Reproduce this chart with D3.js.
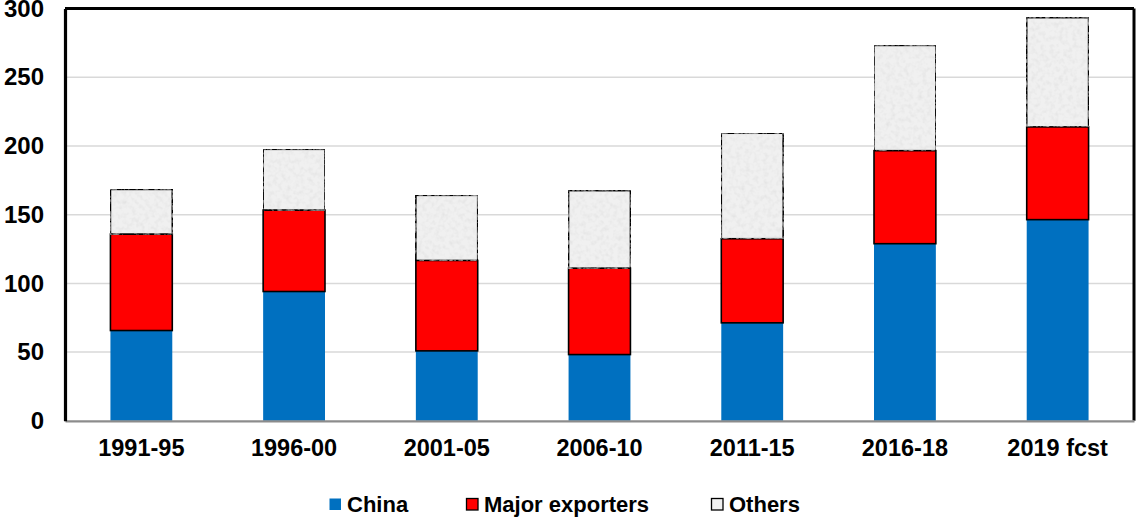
<!DOCTYPE html>
<html>
<head>
<meta charset="utf-8">
<script src="https://cdn.jsdelivr.net/npm/d3@7"></script>
<style>
  html, body { margin: 0; padding: 0; background: #fff; }
  svg { display: block; font-family: "Liberation Sans", Arial, sans-serif; font-weight: bold; }
</style>
</head>
<body>
<div id="chart"></div>
<script>
const categories = ["1991-95", "1996-00", "2001-05", "2006-10", "2011-15", "2016-18", "2019 fcst"];
const china = [65.7, 94.1, 50.9, 48.2, 71.3, 128.9, 146.4];
const majorExporters = [70.2, 59.3, 65.8, 62.9, 61.2, 67.7, 67.5];
const others = [32.5, 44.2, 47.4, 56.4, 76.8, 76.6, 79.5];
const seriesNames = ["China", "Major exporters", "Others"];
const yTicks = [0, 50, 100, 150, 200, 250, 300];

const W = 1136, H = 518;
const margin = { left: 65, right: 2, top: 8.6, bottom: 97.2 };
const svg = d3.select("#chart").append("svg").attr("width", W).attr("height", H);

const defs = svg.append("defs");
const filt = defs.append("filter").attr("id", "speckle").attr("x", 0).attr("y", 0).attr("width", 1).attr("height", 1);
filt.append("feTurbulence").attr("type", "fractalNoise").attr("baseFrequency", 0.22).attr("numOctaves", 2).attr("seed", 3).attr("result", "noise");
filt.append("feColorMatrix").attr("in", "noise").attr("type", "matrix")
  .attr("values", "0 0 0 0 0.72  0 0 0 0 0.72  0 0 0 0 0.72  0 0 0 1.4 -0.62").attr("result", "dots");
filt.append("feComposite").attr("in", "dots").attr("in2", "SourceGraphic").attr("operator", "in").attr("result", "dotsClip");
filt.append("feMerge").call(m => { m.append("feMergeNode").attr("in", "SourceGraphic"); m.append("feMergeNode").attr("in", "dotsClip"); });

const x = d3.scaleBand().domain(categories).range([margin.left, W - margin.right]).paddingInner(0.595).paddingOuter(0.2975);
const y = d3.scaleLinear().domain([0, 300]).range([H - margin.bottom, margin.top]);

// gridlines
svg.append("g").selectAll("line").data(yTicks.filter(d => d > 0 && d < 300)).join("line")
  .attr("x1", margin.left).attr("x2", W - margin.right)
  .attr("y1", d => y(d)).attr("y2", d => y(d))
  .attr("stroke", "#d9d9d9").attr("stroke-width", 1.5);

const table = categories.map((c, i) => ({ cat: c, China: china[i], "Major exporters": majorExporters[i], Others: others[i] }));
const stacked = d3.stack().keys(seriesNames)(table);
const fills = { "China": "#0070C0", "Major exporters": "#FF0000", "Others": "#f0f0f0" };

stacked.forEach(s => {
  const g = svg.append("g");
  g.selectAll("rect").data(s).join("rect")
    .attr("x", d => x(d.data.cat))
    .attr("width", x.bandwidth())
    .attr("y", d => y(d[1]))
    .attr("height", d => y(d[0]) - y(d[1]))
    .attr("fill", fills[s.key])
    .attr("filter", s.key === "Others" ? "url(#speckle)" : null)
    .attr("stroke", s.key === "China" ? "none" : "#000")
    .attr("stroke-width", s.key === "China" ? 0 : 1.6);
});

// frame: top and right
svg.append("line").attr("x1", margin.left).attr("x2", W - margin.right).attr("y1", margin.top).attr("y2", margin.top)
  .attr("stroke", "#000").attr("stroke-width", 3);
svg.append("line").attr("x1", W - margin.right).attr("x2", W - margin.right).attr("y1", margin.top).attr("y2", y(0))
  .attr("stroke", "#000").attr("stroke-width", 3);

// x axis
const xAxis = svg.append("g").attr("transform", `translate(0,${y(0)})`)
  .call(d3.axisBottom(x).tickSize(0).tickPadding(19));
xAxis.select(".domain").attr("stroke", "#8c8c8c").attr("stroke-width", 2.2);
xAxis.selectAll("text").attr("font-size", 23.5).attr("font-weight", "bold").attr("fill", "#000")
  .attr("font-family", "Liberation Sans, Arial, sans-serif");

// y axis
const yAxis = svg.append("g").attr("transform", `translate(${margin.left},0)`)
  .call(d3.axisLeft(y).tickValues(yTicks).tickSize(0).tickPadding(21));
yAxis.select(".domain").attr("stroke", "#000").attr("stroke-width", 3.2);
yAxis.selectAll("text").attr("font-size", 24).attr("font-weight", "bold").attr("fill", "#000")
  .attr("font-family", "Liberation Sans, Arial, sans-serif");

// legend
const legendX = [329, 466, 711];
const leg = svg.append("g");
seriesNames.forEach((name, i) => {
  leg.append("rect").attr("x", legendX[i] + 0.5).attr("y", 498.5).attr("width", 11.5).attr("height", 11.5)
    .attr("fill", fills[name])
    .attr("stroke", name === "China" ? "none" : "#000").attr("stroke-width", name === "China" ? 0 : 1.3);
  leg.append("text").attr("x", legendX[i] + 18).attr("y", 512)
    .attr("font-size", 22).attr("font-weight", "bold").attr("fill", "#000").text(name);
});
</script>
</body>
</html>
